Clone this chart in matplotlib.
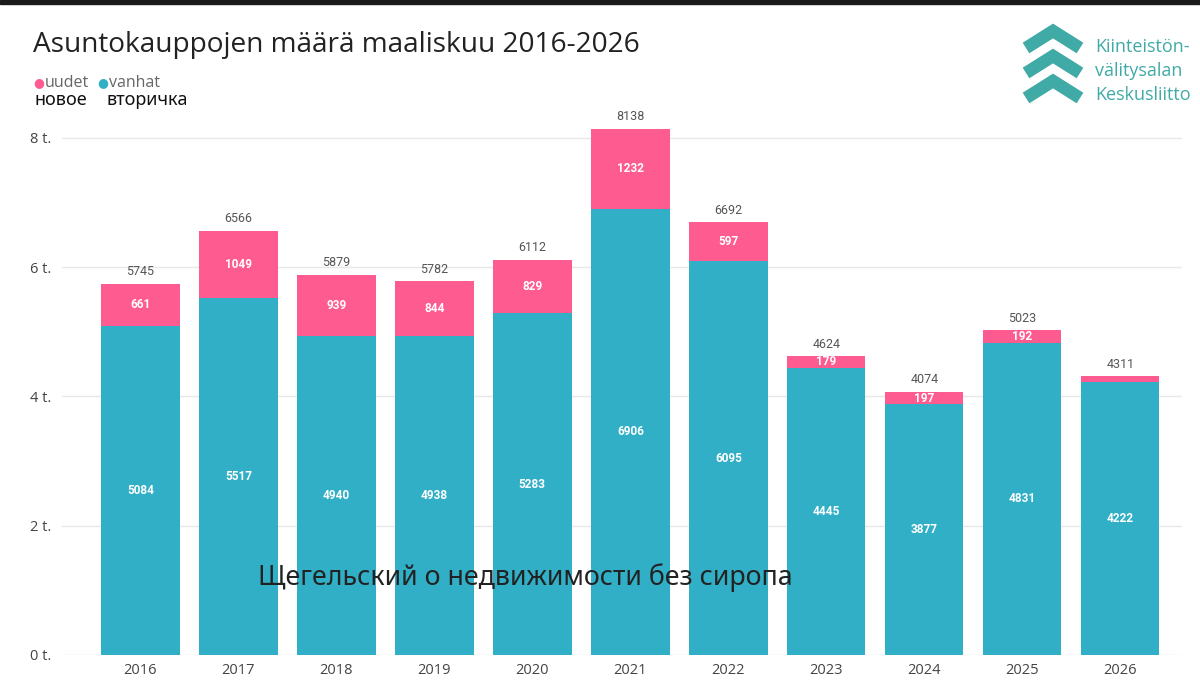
import matplotlib.pyplot as plt
import numpy as np

years = ["2016", "2017", "2018", "2019", "2020", "2021", "2022", "2023", "2024", "2025", "2026"]
vanhat = [5084, 5517, 4940, 4938, 5283, 6906, 6095, 4445, 3877, 4831, 4222]
uudet = [661, 1049, 939, 844, 829, 1232, 597, 179, 197, 192, 89]
totals = [5745, 6566, 5879, 5782, 6112, 8138, 6692, 4624, 4074, 5023, 4311]

teal = "#31afc7"
pink = "#fe5b91"
logo_col = "#40aaa6"

fig = plt.figure(figsize=(12, 6.93), dpi=100)
fig.patch.set_facecolor("white")

# dark strip at the very top
fig.add_artist(plt.Rectangle((0, 1 - 4 / 693), 1, 4 / 693, transform=fig.transFigure,
                             color="#1a1a1a", zorder=10))

ax = fig.add_axes([62 / 1200, 38 / 693, 1120 / 1200, 543 / 693])
x = np.arange(len(years))
w = 0.8
ax.bar(x, vanhat, w, color=teal, zorder=2)
ax.bar(x, uudet, w, bottom=vanhat, color=pink, zorder=2)

for i in range(len(years)):
    ax.text(x[i], vanhat[i] / 2, str(vanhat[i]), ha="center", va="center",
            color="white", fontsize=8.5, fontweight="bold", family="Roboto")
    if uudet[i] > 150:
        ax.text(x[i], vanhat[i] + uudet[i] / 2, str(uudet[i]), ha="center", va="center",
                color="white", fontsize=8.5, fontweight="bold", family="Roboto")
    ax.annotate(str(totals[i]), (x[i], totals[i]), xytext=(0, 4), textcoords="offset points",
                ha="center", va="bottom", color="#555555", fontsize=9, family="Roboto")

ax.set_xlim(-0.8, 10.63)
ax.set_ylim(0, 8400)
ax.set_yticks([0, 2000, 4000, 6000, 8000])
ax.set_yticklabels(["0 t.", "2 t.", "4 t.", "6 t.", "8 t."])
ax.set_xticks(x)
ax.set_xticklabels(years)
ax.tick_params(axis="both", length=0, colors="#444444", labelsize=10.5)
ax.tick_params(axis="y", pad=8)
ax.tick_params(axis="x", pad=6)
for lab in ax.get_xticklabels() + ax.get_yticklabels():
    lab.set_family("Open Sans")
ax.grid(axis="y", color="#e8e8e8", linewidth=1, zorder=0)
for s in ax.spines.values():
    s.set_visible(False)

# title and legend
fig.text(33 / 1200, 1 - 45 / 693, "Asuntokauppojen määrä maaliskuu 2016-2026", fontsize=20.2,
         family="Open Sans", color="#222222", va="center", ha="left")
fig.text(33 / 1200, 1 - 83 / 693, "●", color=pink, fontsize=9, va="center", family="DejaVu Sans")
fig.text(45 / 1200, 1 - 83 / 693, "uudet", color="#666666", fontsize=11.5, va="center", family="Open Sans")
fig.text(97 / 1200, 1 - 83 / 693, "●", color=teal, fontsize=9, va="center", family="DejaVu Sans")
fig.text(109 / 1200, 1 - 83 / 693, "vanhat", color="#666666", fontsize=11.5, va="center", family="Open Sans")
fig.text(34 / 1200, 1 - 100 / 693, "новое", color="#111111", fontsize=13, va="center", family="Noto Sans")
fig.text(106 / 1200, 1 - 100 / 693, "вторичка", color="#111111", fontsize=13, va="center", family="Noto Sans")

# watermark
fig.text(258 / 1200, 1 - 578 / 693, "Щегельский о недвижимости без сиропа", color="#222222",
         fontsize=19.3, va="center", ha="left", family="Noto Sans", zorder=5)

# logo
lax = fig.add_axes([0, 0, 1, 1])
lax.set_xlim(0, 1200)
lax.set_ylim(693, 0)
lax.axis("off")
for apex in [31, 56, 81]:
    lax.plot([1026, 1053, 1080], [apex + 17, apex, apex + 17], color=logo_col,
             linewidth=9, solid_capstyle="butt", solid_joinstyle="miter")
for ty, t in zip([47, 71, 95], ["Kiinteistön-", "välitysalan", "Keskusliitto"]):
    lax.text(1095, ty, t, color=logo_col, fontsize=13, va="center", ha="left", family="Open Sans")

fig.savefig("out.png", dpi=100)
